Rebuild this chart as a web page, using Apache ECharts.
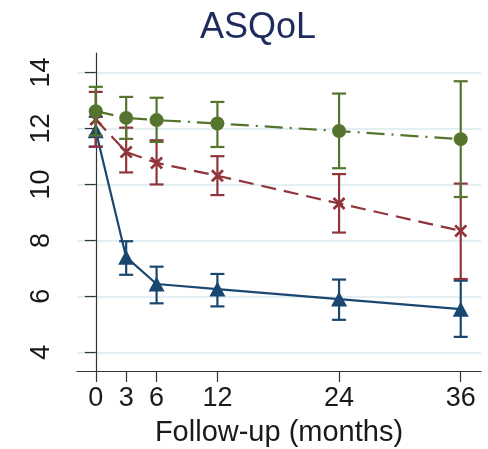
<!DOCTYPE html>
<html>
<head>
<meta charset="utf-8">
<script src="https://cdn.jsdelivr.net/npm/echarts@6/dist/echarts.min.js"></script>
<style>
  html, body { margin: 0; padding: 0; background: #fff; }
  #chart { width: 488px; height: 449px; }
</style>
</head>
<body>
<div id="chart"></div>
<script>
// follow-up months
const months = [0, 3, 6, 12, 24, 36];
const yTicks = [4, 6, 8, 10, 12, 14];

// blue (triangles)
const blueMean = [11.92, 7.4, 6.44, 6.26, 5.9, 5.54];
const blueLo = [11.35, 6.77, 5.75, 5.64, 5.16, 4.55];
const blueHi = [12.42, 7.97, 7.06, 6.8, 6.6, 6.56];

// red (x markers)
const redMean = [12.32, 11.16, 10.77, 10.31, 9.32, 8.34];
const redLo = [11.35, 10.43, 10.0, 9.62, 8.28, 6.62];
const redHi = [13.31, 12.03, 11.58, 11.01, 10.37, 10.03];

// green (circles)
const greenMean = [12.62, 12.38, 12.3, 12.18, 11.91, 11.62];
const greenLo = [11.75, 11.63, 11.52, 11.34, 10.58, 9.55];
const greenHi = [13.49, 13.13, 13.1, 12.95, 13.25, 13.69];

const BLUE = "#1a476f", RED = "#90353b", GREEN = "#55752f";
const FONT = "Liberation Sans";

const chart = echarts.init(document.getElementById("chart"));

const pairs = (ys) => months.map((m, i) => [m, ys[i]]);

// error bars: vertical line plus caps
const errorBars = (lo, hi, color, z) => ({
    type: "custom",
    z: z,
    silent: true,
    data: months.map((m, i) => [m, lo[i], hi[i]]),
    encode: { x: 0, y: [1, 2] },
    renderItem: (params, api) => {
        const top = api.coord([api.value(0), api.value(2)]);
        const bot = api.coord([api.value(0), api.value(1)]);
        const w = 7;
        const style = { stroke: color, lineWidth: 2.2, fill: null };
        return {
            type: "group",
            children: [
                { type: "line", shape: { x1: top[0], y1: top[1], x2: bot[0], y2: bot[1] }, style },
                { type: "line", shape: { x1: top[0] - w, y1: top[1], x2: top[0] + w, y2: top[1] }, style },
                { type: "line", shape: { x1: bot[0] - w, y1: bot[1], x2: bot[0] + w, y2: bot[1] }, style }
            ]
        };
    }
});

const xMark = "path://M1.5,0L5,3.5L8.5,0L10,1.5L6.5,5L10,8.5L8.5,10L5,6.5L1.5,10L0,8.5L3.5,5L0,1.5Z";

const option = {
    animation: false,
    title: {
        text: "ASQoL",
        left: 253,
        textAlign: "center",
        top: 5,
        textStyle: { fontFamily: FONT, fontSize: 36, fontWeight: "normal", color: "#1e2b5c" }
    },
    grid: { left: 77, right: 7, top: 53, bottom: 78, outerBoundsMode: "none" },
    xAxis: {
        type: "value",
        min: -1.85,
        max: 38,
        name: "Follow-up (months)",
        nameLocation: "middle",
        nameGap: 47,
        nameTextStyle: { fontFamily: FONT, fontSize: 29, color: "#1a1a1a" },
        axisLine: { lineStyle: { color: "#333", width: 1.2 } },
        axisTick: { show: true, length: 11, customValues: months, lineStyle: { color: "#333", width: 1.2 } },
        axisLabel: { customValues: months, margin: 14, fontFamily: FONT, fontSize: 27, color: "#1a1a1a" },
        splitLine: { show: false }
    },
    yAxis: {
        type: "value",
        min: 3.33,
        max: 14.7,
        axisLine: { show: true, lineStyle: { color: "#333", width: 1.2 } },
        axisTick: { show: true, length: 11, customValues: yTicks, lineStyle: { color: "#333", width: 1.2 } },
        axisLabel: { customValues: yTicks, rotate: 90, margin: 22, fontFamily: FONT, fontSize: 27, color: "#1a1a1a" },
        splitLine: { show: true, lineStyle: { color: "#e3eff3", width: 2 } }
    },
    series: [
        errorBars(blueLo, blueHi, BLUE, 2),
        {
            type: "line", z: 3, data: pairs(blueMean),
            symbol: "triangle", symbolSize: [16, 15],
            itemStyle: { color: BLUE },
            lineStyle: { color: BLUE, width: 2.2 }
        },
        errorBars(redLo, redHi, RED, 4),
        {
            type: "line", z: 5, data: pairs(redMean),
            symbol: xMark, symbolSize: 13,
            itemStyle: { color: RED },
            lineStyle: { color: RED, width: 2.2, type: [15, 8] }
        },
        errorBars(greenLo, greenHi, GREEN, 6),
        {
            type: "line", z: 7, data: pairs(greenMean),
            symbol: "circle", symbolSize: 14,
            itemStyle: { color: GREEN },
            lineStyle: { color: GREEN, width: 2.2, type: [18, 7, 2, 7] }
        }
    ]
};

chart.setOption(option);
</script>
</body>
</html>
